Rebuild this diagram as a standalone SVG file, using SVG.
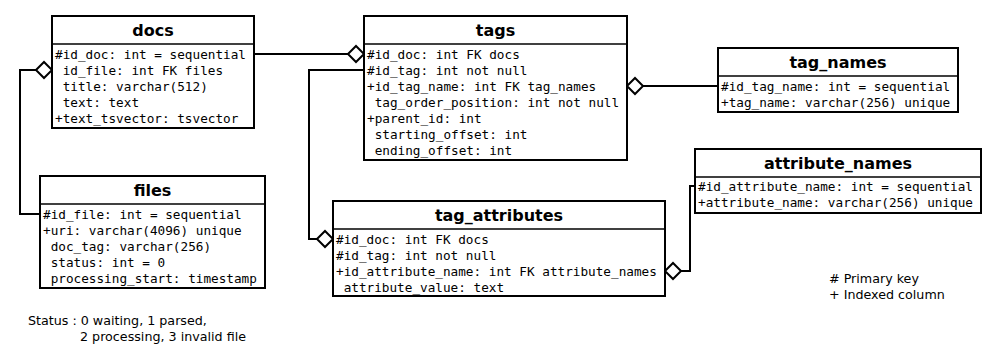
<svg xmlns="http://www.w3.org/2000/svg" width="1002" height="355" viewBox="0 0 1002 355">
  <style>
    .box { fill: #ffffff; stroke: #000000; stroke-width: 2; }
    .sep { stroke: #000000; stroke-width: 1.5; }
    .title { font-family: "DejaVu Sans", "Liberation Sans", sans-serif; font-weight: bold; font-size: 16px; text-anchor: middle; fill: #000; }
    .field { font-family: "DejaVu Sans Mono", "Liberation Mono", monospace; font-size: 12.7px; fill: #000; white-space: pre; }
    .note { font-family: "DejaVu Sans", "Liberation Sans", sans-serif; font-size: 12.7px; fill: #000; white-space: pre; }
    .link { fill: none; stroke: #000000; stroke-width: 2; }
    .dia { fill: #ffffff; stroke: #000000; stroke-width: 2; }
  </style>

  <!-- relations between tables -->
  <g id="connectors">
    <!-- docs.id_file -> files.id_file -->
    <polyline class="link" points="36,70 20,70 20,214 40,214"/>
    <polygon class="dia" points="36,70 44,62 52,70 44,78"/>
    <!-- docs.id_doc -> tags.id_doc -->
    <polyline class="link" points="254,54 348,54"/>
    <polygon class="dia" points="348,54 356,46 364,54 356,62"/>
    <!-- tags -> tag_attributes -->
    <polyline class="link" points="364,70 309,70 309,239 317,239"/>
    <polygon class="dia" points="317,239 325,231 333,239 325,247"/>
    <!-- tags.id_tag_name -> tag_names -->
    <polyline class="link" points="643,86 718,86"/>
    <polygon class="dia" points="627,86 635,78 643,86 635,94"/>
    <!-- tag_attributes.id_attribute_name -> attribute_names -->
    <polyline class="link" points="681,271 690,271 690,186 695,186"/>
    <polygon class="dia" points="665,271 673,263 681,271 673,279"/>
  </g>

  <g id="docs">
    <rect class="box" x="52" y="16" width="202" height="112"/>
    <line class="sep" x1="52" y1="44" x2="254" y2="44"/>
    <text class="title" x="153" y="36">docs</text>
    <text class="field" x="55" y="58.5">#id_doc: int = sequential</text>
    <text class="field" x="55" y="74.5"> id_file: int FK files</text>
    <text class="field" x="55" y="90.5"> title: varchar(512)</text>
    <text class="field" x="55" y="106.5"> text: text</text>
    <text class="field" x="55" y="122.5">+text_tsvector: tsvector</text>
  </g>

  <g id="files">
    <rect class="box" x="40" y="176" width="225" height="112"/>
    <line class="sep" x1="40" y1="204" x2="265" y2="204"/>
    <text class="title" x="152.5" y="196">files</text>
    <text class="field" x="43" y="218.5">#id_file: int = sequential</text>
    <text class="field" x="43" y="234.5">+uri: varchar(4096) unique</text>
    <text class="field" x="43" y="250.5"> doc_tag: varchar(256)</text>
    <text class="field" x="43" y="266.5"> status: int = 0</text>
    <text class="field" x="43" y="282.5"> processing_start: timestamp</text>
  </g>

  <g id="tags">
    <rect class="box" x="364" y="16" width="263" height="144"/>
    <line class="sep" x1="364" y1="44" x2="627" y2="44"/>
    <text class="title" x="495.5" y="36">tags</text>
    <text class="field" x="367" y="58.5">#id_doc: int FK docs</text>
    <text class="field" x="367" y="74.5">#id_tag: int not null</text>
    <text class="field" x="367" y="90.5">+id_tag_name: int FK tag_names</text>
    <text class="field" x="367" y="106.5"> tag_order_position: int not null</text>
    <text class="field" x="367" y="122.5">+parent_id: int</text>
    <text class="field" x="367" y="138.5"> starting_offset: int</text>
    <text class="field" x="367" y="154.5"> ending_offset: int</text>
  </g>

  <g id="tag_names">
    <rect class="box" x="718" y="48" width="240" height="64"/>
    <line class="sep" x1="718" y1="76" x2="958" y2="76"/>
    <text class="title" x="838" y="68">tag_names</text>
    <text class="field" x="721" y="90.5">#id_tag_name: int = sequential</text>
    <text class="field" x="721" y="106.5">+tag_name: varchar(256) unique</text>
  </g>

  <g id="tag_attributes">
    <rect class="box" x="333" y="201" width="332" height="95"/>
    <line class="sep" x1="333" y1="229" x2="665" y2="229"/>
    <text class="title" x="499" y="221">tag_attributes</text>
    <text class="field" x="336" y="243.5">#id_doc: int FK docs</text>
    <text class="field" x="336" y="259.5">#id_tag: int not null</text>
    <text class="field" x="336" y="275.5">+id_attribute_name: int FK attribute_names</text>
    <text class="field" x="336" y="291.5"> attribute_value: text</text>
  </g>

  <g id="attribute_names">
    <rect class="box" x="695" y="149" width="286" height="64"/>
    <line class="sep" x1="695" y1="177" x2="981" y2="177"/>
    <text class="title" x="838" y="169">attribute_names</text>
    <text class="field" x="698" y="190.5">#id_attribute_name: int = sequential</text>
    <text class="field" x="698" y="206.5">+attribute_name: varchar(256) unique</text>
  </g>

  <g id="legend">
    <text class="note" x="829" y="282.5"># Primary key</text>
    <text class="note" x="829" y="298.5">+ Indexed column</text>
  </g>

  <g id="status-note">
    <text class="note" x="28" y="324.5">Status : 0 waiting, 1 parsed,</text>
    <text class="note" x="80" y="340.5">2 processing, 3 invalid file</text>
  </g>
</svg>
